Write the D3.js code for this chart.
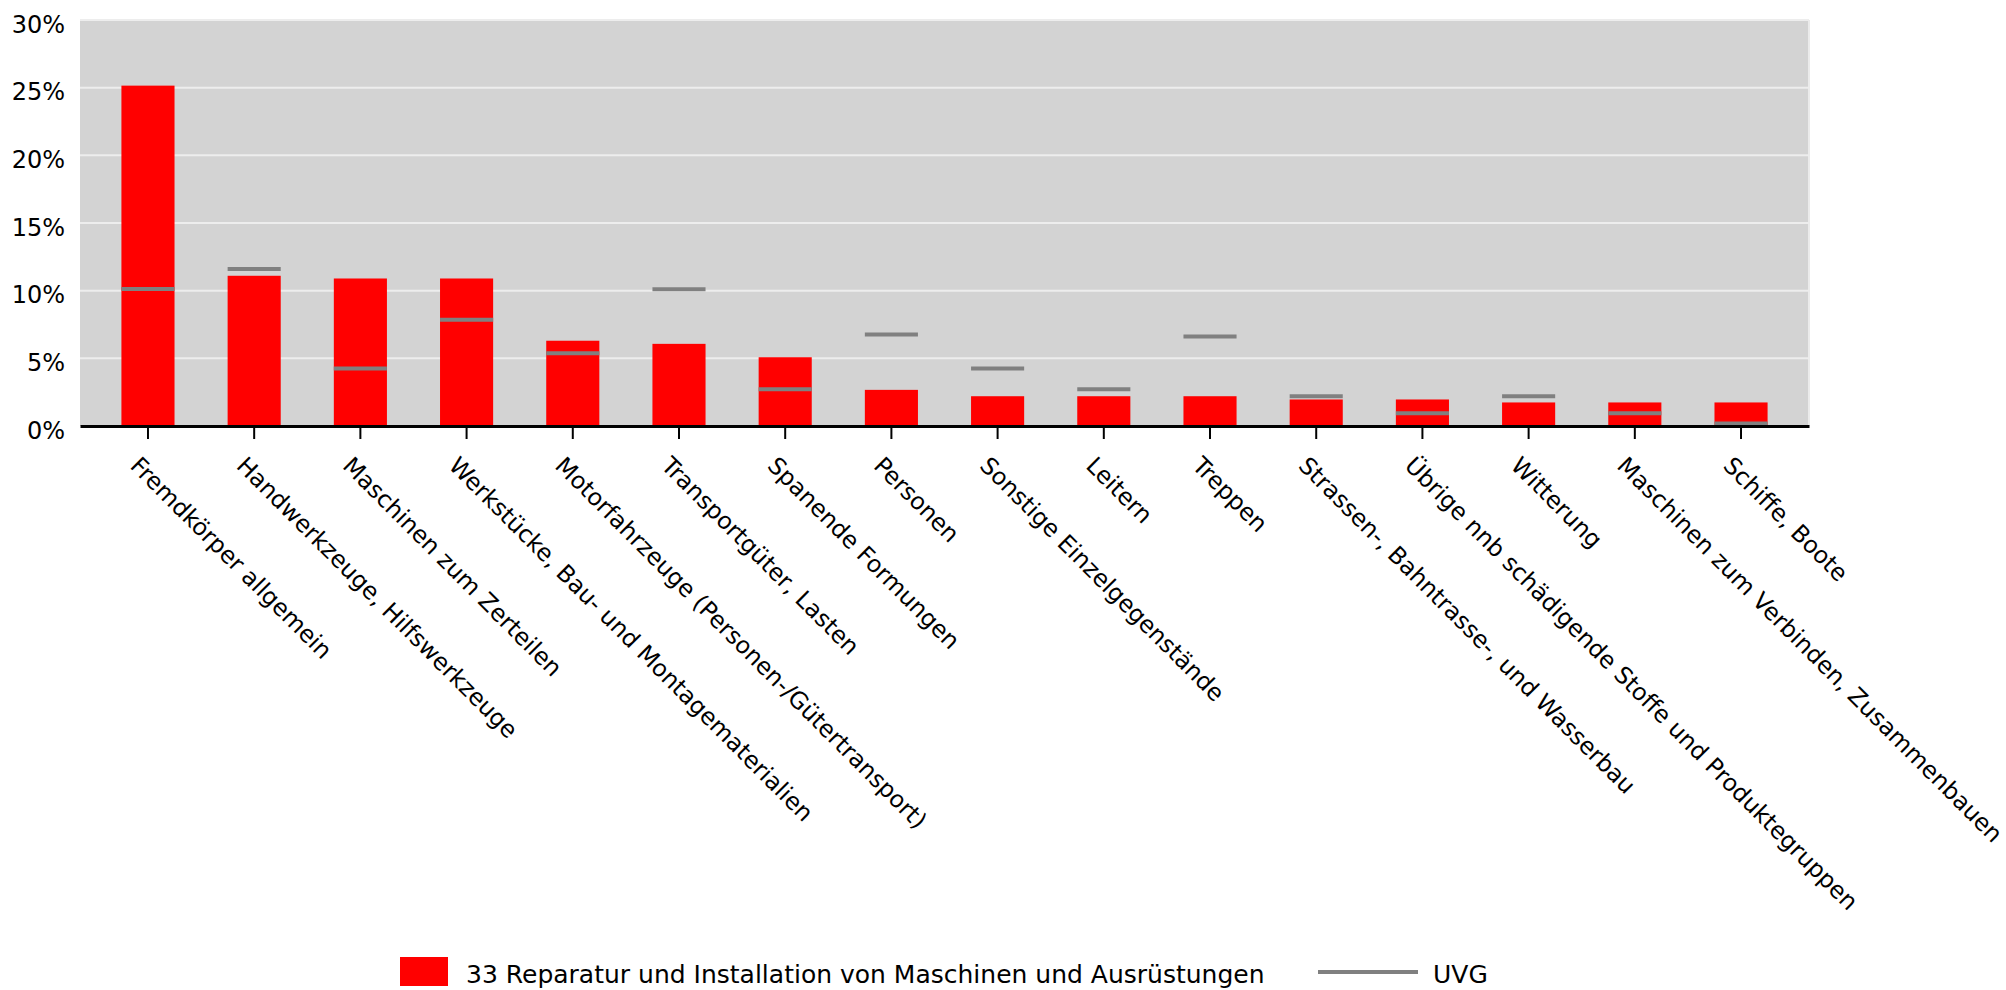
<!DOCTYPE html>
<html>
<head>
<meta charset="utf-8">
<script src="https://cdn.jsdelivr.net/npm/d3@7"></script>
<style>
body { margin: 0; background: #fff; }
text { font-family: "DejaVu Sans", Verdana, sans-serif; }
</style>
</head>
<body>
<script>
var width = 2006;
var height = 990;

var categorias = [
    "Fremdkörper allgemein",
    "Handwerkzeuge, Hilfswerkzeuge",
    "Maschinen zum Zerteilen",
    "Werkstücke, Bau- und Montagematerialien",
    "Motorfahrzeuge (Personen-/Gütertransport)",
    "Transportgüter, Lasten",
    "Spanende Formungen",
    "Personen",
    "Sonstige Einzelgegenstände",
    "Leitern",
    "Treppen",
    "Strassen-, Bahntrasse-, und Wasserbau",
    "Übrige nnb schädigende Stoffe und Produktegruppen",
    "Witterung",
    "Maschinen zum Verbinden, Zusammenbauen",
    "Schiffe, Boote"
];

// 33 Reparatur und Installation ... (in %)
var valoresBranche = [25.15, 11.1, 10.9, 10.9, 6.3, 6.07, 5.08, 2.67, 2.2, 2.2, 2.2, 1.96, 1.96, 1.74, 1.74, 1.74];

// UVG (in %)
var valoresUVG = [10.13, 11.6, 4.25, 7.86, 5.38, 10.1, 2.72, 6.76, 4.25, 2.72, 6.61, 2.2, 0.95, 2.2, 0.95, 0.18];

var yTicks = [0, 5, 10, 15, 20, 25, 30];

var nombreSerie = "33 Reparatur und Installation von Maschinen und Ausrüstungen";
var nombreUVG = "UVG";

var plotLeft = 80, plotRight = 1809, plotTop = 20, plotBottom = 426;

var svg = d3.select("body")
            .append("svg")
            .attr("width", width)
            .attr("height", height);

var x = d3.scaleBand()
          .domain(categorias)
          .range([plotLeft, plotRight])
          .paddingInner(0.5)
          .paddingOuter(0.39);

var y = d3.scaleLinear()
          .domain([0, 30])
          .range([plotBottom, plotTop]);

// fondo gris
svg.append("rect")
   .attr("x", plotLeft)
   .attr("y", plotTop)
   .attr("width", plotRight - plotLeft)
   .attr("height", plotBottom - plotTop)
   .style("fill", "#d3d3d3");

// borde derecho
svg.append("line")
   .attr("x1", plotRight).attr("x2", plotRight)
   .attr("y1", plotTop).attr("y2", plotBottom)
   .style("stroke", "#ebebeb")
   .style("stroke-width", 2);

// lineas de grilla
svg.selectAll(".grid")
   .data(yTicks.filter(function(d) { return d > 0; }))
   .enter()
   .append("line")
   .attr("class", "grid")
   .attr("x1", plotLeft)
   .attr("x2", plotRight)
   .attr("y1", function(d) { return y(d); })
   .attr("y2", function(d) { return y(d); })
   .style("stroke", "#ededed")
   .style("stroke-width", 2);

// eje Y
var yAxis = svg.append("g")
   .attr("transform", "translate(" + plotLeft + ",0)")
   .call(d3.axisLeft(y).tickValues(yTicks).tickSize(0).tickPadding(15).tickFormat(function(d) { return d + "%"; }));
yAxis.select(".domain").remove();
yAxis.selectAll("text")
     .attr("dy", "12")
     .style("font-size", "24px")
     .style("fill", "#000");

// barras
svg.selectAll(".bar")
   .data(valoresBranche)
   .enter()
   .append("rect")
   .attr("class", "bar")
   .attr("x", function(d, i) { return x(categorias[i]); })
   .attr("y", function(d) { return y(d); })
   .attr("width", x.bandwidth())
   .attr("height", function(d) { return y(0) - y(d); })
   .style("fill", "#ff0000");

// marcas UVG
svg.selectAll(".uvg")
   .data(valoresUVG)
   .enter()
   .append("line")
   .attr("class", "uvg")
   .attr("x1", function(d, i) { return x(categorias[i]); })
   .attr("x2", function(d, i) { return x(categorias[i]) + x.bandwidth(); })
   .attr("y1", function(d) { return y(d); })
   .attr("y2", function(d) { return y(d); })
   .style("stroke", "#808080")
   .style("stroke-width", 4);

// eje X
var xAxis = svg.append("g")
   .attr("transform", "translate(0," + plotBottom + ")")
   .call(d3.axisBottom(x).tickSize(13).tickSizeOuter(0));
xAxis.select(".domain")
     .style("stroke", "#000")
     .style("stroke-width", 3);
xAxis.selectAll(".tick line")
     .style("stroke", "#000")
     .style("stroke-width", 2);
xAxis.selectAll(".tick text")
     .attr("x", 0)
     .attr("y", 0)
     .attr("dy", 0)
     .attr("transform", "translate(-19,41) rotate(45)")
     .style("text-anchor", "start")
     .style("font-size", "23.6px")
     .style("fill", "#000");

// leyenda
var leyenda = svg.append("g");
leyenda.append("rect")
       .attr("x", 400).attr("y", 957)
       .attr("width", 48).attr("height", 29)
       .style("fill", "#ff0000");
leyenda.append("text")
       .attr("x", 466).attr("y", 983)
       .style("font-size", "25px")
       .text(nombreSerie);
leyenda.append("line")
       .attr("x1", 1318).attr("x2", 1418)
       .attr("y1", 972).attr("y2", 972)
       .style("stroke", "#808080")
       .style("stroke-width", 4);
leyenda.append("text")
       .attr("x", 1433).attr("y", 983)
       .style("font-size", "25px")
       .text(nombreUVG);
</script>
</body>
</html>
